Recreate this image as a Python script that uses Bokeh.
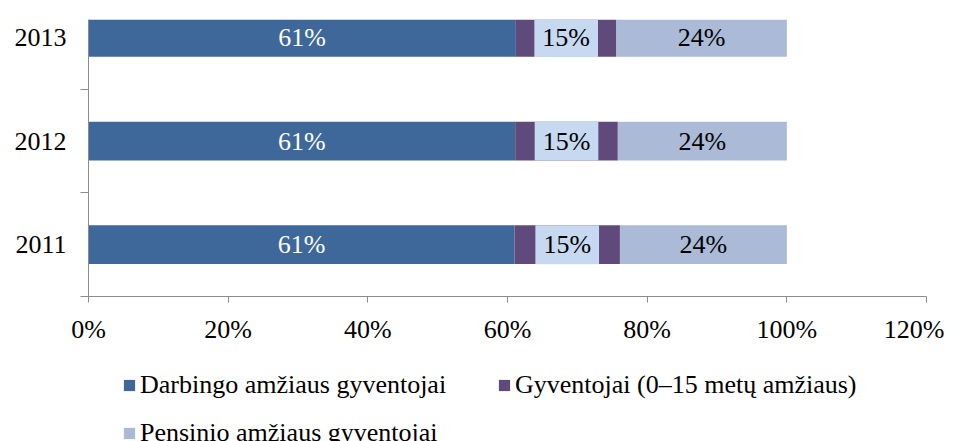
from bokeh.plotting import figure
from bokeh.layouts import column
from bokeh.models import (ColumnDataSource, Range1d, FixedTicker, PrintfTickFormatter,
                          Legend, LegendItem)
from bokeh.core.properties import value
from bokeh.embed import file_html
from bokeh.resources import INLINE

years = ["2011", "2012", "2013"]
darbingo = [61.0, 61.1, 61.2]
vaikai = [15.1, 14.7, 14.4]
pensinio = [23.9, 24.2, 24.4]
darbingo_lbl = ["61%", "61%", "61%"]
vaikai_lbl = ["15%", "15%", "15%"]
pensinio_lbl = ["24%", "24%", "24%"]
series_names = ["Darbingo amžiaus gyventojai", "Gyventojai (0–15 metų amžiaus)",
                "Pensinio amžiaus gyventojai"]
x_ticks = [0, 20, 40, 60, 80, 100, 120]

C_BLUE = "#3E689A"
C_PURPLE = "#604A7B"
C_LIGHT = "#AABAD7"
COLORS = [C_BLUE, C_PURPLE, C_LIGHT]
FONT = "Liberation Serif"

ypos = list(range(len(years)))
src = ColumnDataSource(dict(
    y=ypos, darbingo=darbingo, vaikai=vaikai, pensinio=pensinio,
    c1=[d / 2 for d in darbingo],
    c2=[d + v / 2 for d, v in zip(darbingo, vaikai)],
    c3=[d + v + p / 2 for d, v, p in zip(darbingo, vaikai, pensinio)],
    l1=darbingo_lbl, l2=vaikai_lbl, l3=pensinio_lbl,
))

W = 944
H1 = 346
p = figure(width=W, height=H1, output_backend="svg", toolbar_location=None,
           x_range=Range1d(0, 120), y_range=Range1d(-0.5, 2.173),
           min_border_left=88, min_border_right=W - 926, min_border_top=19,
           min_border_bottom=H1 - 297)
p.outline_line_color = None
p.grid.visible = False

rs = p.hbar_stack(["darbingo", "vaikai", "pensinio"], y="y", height=0.375,
                  color=COLORS, line_color=None, source=src)

p.text(x="c1", y="y", text="l1", source=src, text_align="center",
       text_baseline="middle", text_color="white",
       text_font=value(FONT), text_font_size="26px")
p.text(x="c2", y="y", text="l2", source=src, text_align="center",
       text_baseline="middle", text_color="black",
       text_font=value(FONT), text_font_size="26px",
       background_fill_color="#C6D9F1", padding=dict(x=8, y=5))
p.text(x="c3", y="y", text="l3", source=src, text_align="center",
       text_baseline="middle", text_color="black",
       text_font=value(FONT), text_font_size="26px")

xa = p.xaxis[0]
xa.ticker = FixedTicker(ticks=x_ticks)
xa.formatter = PrintfTickFormatter(format="%d%%")
xa.axis_line_color = "#8C8C8C"
xa.major_tick_line_color = "#8C8C8C"
xa.major_tick_in = 0
xa.major_tick_out = 6
xa.minor_tick_line_color = None
xa.major_label_standoff = 12
xa.major_label_text_font = FONT
xa.major_label_text_font_size = "26px"
xa.major_label_text_color = "black"

ya = p.yaxis[0]
ya.ticker = FixedTicker(ticks=ypos, minor_ticks=[-0.5, 0.5, 1.5])
ya.major_label_overrides = {i: y for i, y in zip(ypos, years)}
ya.axis_line_color = "#8C8C8C"
ya.major_tick_line_color = None
ya.major_tick_in = 0
ya.major_tick_out = 0
ya.minor_tick_line_color = "#8C8C8C"
ya.minor_tick_in = 0
ya.minor_tick_out = 8
ya.major_label_standoff = 14
ya.major_label_text_font = FONT
ya.major_label_text_font_size = "26px"
ya.major_label_text_color = "black"

# legend strip below the chart (its swatches come from out-of-view copies of the bars)
LH = 441 - H1
q = figure(width=W, height=LH, output_backend="svg", toolbar_location=None,
           x_range=Range1d(0, 120), y_range=Range1d(10, 11),
           min_border=0, x_axis_type=None, y_axis_type=None)
q.outline_line_color = None
q.grid.visible = False
qs = q.hbar_stack(["darbingo", "vaikai", "pensinio"], y="y", height=0.375,
                  color=COLORS, line_color=None, source=src)

legend = Legend(items=[LegendItem(label=n, renderers=[r]) for n, r in zip(series_names, qs)],
                orientation="horizontal", ncols=2, location=(34, -10),
                glyph_width=14, glyph_height=14, label_standoff=4, spacing=12,
                label_height=36, label_width=345, padding=0, margin=0,
                label_text_font=FONT, label_text_font_size="26px",
                label_text_color="black",
                border_line_color=None, background_fill_alpha=0)
q.add_layout(legend, "center")

open("out.html", "w").write(file_html(column(p, q, spacing=0), INLINE))
